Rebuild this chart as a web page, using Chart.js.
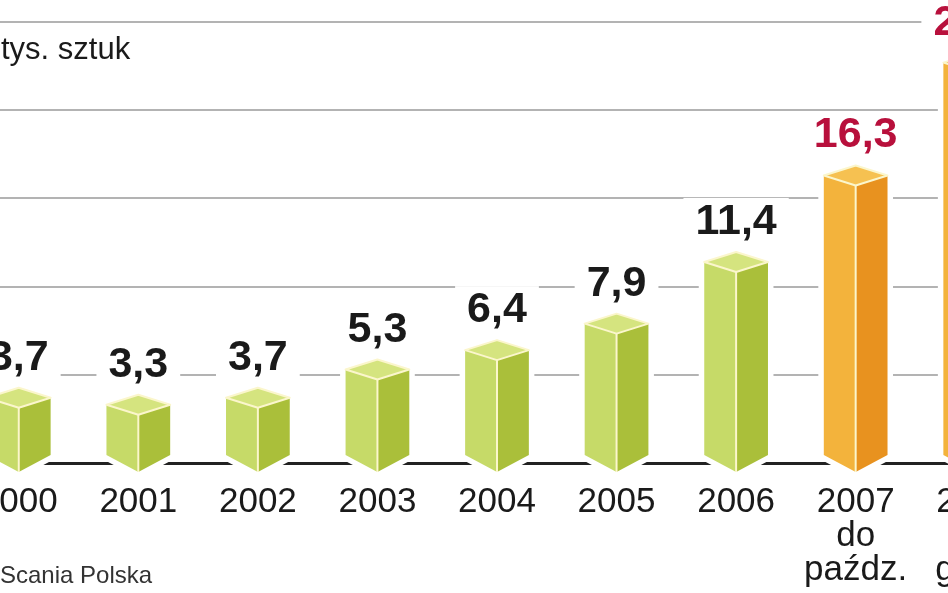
<!DOCTYPE html>
<html>
<head>
<meta charset="utf-8">
<script src="https://cdn.jsdelivr.net/npm/chart.js@4/dist/chart.umd.min.js"></script>
<style>
    html, body { margin: 0; padding: 0; background: #fff; overflow: hidden; width: 948px; height: 593px; }
    /* chart is wider than the window: first and last bars are cut off like in the print */
    #wrap { position: absolute; left: -43px; top: 0; width: 1081px; height: 593px; }
</style>
</head>
<body>
<div id="wrap"><canvas id="chart" width="1081" height="593"></canvas></div>
<script>
/* -------- DATA -------- */
const years = [["2000"], ["2001"], ["2002"], ["2003"], ["2004"], ["2005"], ["2006"], ["2007", "do", "paźdz."], ["2008", "do", "grud."]];
const sales = [3.7, 3.3, 3.7, 5.3, 6.4, 7.9, 11.4, 16.3, 22.7];
const gridValues = [5, 10, 15, 20, 25];
const unitLabel = "tys. sztuk";
const sourceLabel = "Scania Polska";

/* -------- STYLE -------- */
const SHIFT = 43;          // canvas starts 43px left of the window
const DEPTH = 10;          // isometric depth of the box tops
const LABEL_GAP = 18;
const FONT = "'Liberation Sans', Arial, sans-serif";
const green = { left: "#c6da68", right: "#aabf3a", top: "#d5e47f", text: "#1a1a1a" };
const orange = { left: "#f3b33c", right: "#e8921f", top: "#f6c151", text: "#b8103c" };

function paletteFor(i) {
    return i >= 7 ? orange : green;
}

function fmt(v) {
    return v.toFixed(1).replace(".", ",");
}

function poly(ctx, pts) {
    ctx.beginPath();
    ctx.moveTo(pts[0][0], pts[0][1]);
    for (let k = 1; k < pts.length; k++) ctx.lineTo(pts[k][0], pts[k][1]);
    ctx.closePath();
}

// draws every bar as a box seen from its corner, using the bar element geometry
const boxPlugin = {
    id: "boxes",
    afterDatasetsDraw(chart) {
        const ctx = chart.ctx;
        const meta = chart.getDatasetMeta(0);
        const base = chart.scales.y.getPixelForValue(0);
        const valueFont = "bold 43px " + FONT;
        const boxes = meta.data.map((bar) => {
            const p = bar.getProps(["x", "y", "width"], true);
            const L = p.x - p.width / 2, R = p.x + p.width / 2, T = p.y;
            return {
                cx: p.x, L, R, T,
                Bo: base - 8,
                Bf: base + 9,
            };
        });

        ctx.save();
        // white gaps in the grid around boxes and labels
        ctx.fillStyle = "#fff";
        ctx.strokeStyle = "#fff";
        ctx.lineJoin = "round";
        ctx.font = valueFont;
        boxes.forEach((b, i) => {
            poly(ctx, [[b.L, b.T], [b.cx, b.T - DEPTH], [b.R, b.T], [b.R, b.Bo], [b.cx, b.Bf], [b.L, b.Bo]]);
            ctx.lineWidth = 11;
            ctx.stroke();
            ctx.fill();
            const w = ctx.measureText(fmt(sales[i])).width;
            const ty = b.T - DEPTH - LABEL_GAP;
            ctx.fillRect(b.cx - w / 2 - 12, ty - 36, w + 24, 46);
        });

        // faces
        boxes.forEach((b, i) => {
            const pal = paletteFor(i);
            const front = b.T + DEPTH;
            ctx.fillStyle = pal.left;
            poly(ctx, [[b.L, b.T], [b.cx, front], [b.cx, b.Bf], [b.L, b.Bo]]);
            ctx.fill();
            ctx.fillStyle = pal.right;
            poly(ctx, [[b.cx, front], [b.R, b.T], [b.R, b.Bo], [b.cx, b.Bf]]);
            ctx.fill();
            ctx.fillStyle = pal.top;
            poly(ctx, [[b.L, b.T], [b.cx, b.T - DEPTH], [b.R, b.T], [b.cx, front]]);
            ctx.fill();

            // light edges
            ctx.strokeStyle = "#fbf6cc";
            ctx.lineWidth = 2;
            poly(ctx, [[b.L, b.T], [b.cx, b.T - DEPTH], [b.R, b.T], [b.cx, front]]);
            ctx.stroke();
            ctx.beginPath();
            ctx.moveTo(b.cx, front);
            ctx.lineTo(b.cx, b.Bf);
            ctx.stroke();

            // value label
            ctx.fillStyle = pal.text;
            ctx.font = valueFont;
            ctx.textAlign = "center";
            ctx.textBaseline = "alphabetic";
            ctx.fillText(fmt(sales[i]), b.cx, b.T - DEPTH - LABEL_GAP);
        });
        ctx.restore();
    },
    afterDraw(chart) {
        const ctx = chart.ctx;
        ctx.save();
        ctx.textAlign = "left";
        ctx.textBaseline = "alphabetic";
        ctx.fillStyle = "#1a1a1a";
        ctx.font = "31px " + FONT;
        ctx.fillText(unitLabel, SHIFT + 1, 59);
        ctx.fillStyle = "#333";
        ctx.font = "24px " + FONT;
        ctx.fillText(sourceLabel, SHIFT, 583);
        ctx.restore();
    }
};

/* -------- PROGRAM START -------- */
document.addEventListener("DOMContentLoaded", () => {
    const ctx = document.getElementById("chart").getContext("2d");
    new Chart(ctx, {
        type: "bar",
        data: {
            labels: years,
            datasets: [{
                data: sales,
                backgroundColor: "rgba(0,0,0,0)",
                borderWidth: 0,
                barPercentage: 0.533,
                categoryPercentage: 1,
            }],
        },
        options: {
            responsive: false,
            devicePixelRatio: 1,
            animation: false,
            layout: { padding: 0 },
            plugins: {
                legend: { display: false },
                tooltip: { enabled: false },
            },
            scales: {
                x: {
                    grid: { display: false, drawTicks: false },
                    border: { display: true, color: "#222", width: 3 },
                    ticks: {
                        color: "#1a1a1a",
                        font: { family: FONT, size: 35, lineHeight: 0.96 },
                        padding: 23,
                        maxRotation: 0,
                        autoSkip: false,
                    },
                    afterFit(scale) {
                        scale.height = 130;   // keeps the baseline at y = 463
                    },
                },
                y: {
                    min: 0,
                    max: 26.25,
                    ticks: { display: false, stepSize: 5 },
                    border: { display: false },
                    grid: {
                        drawTicks: false,
                        lineWidth: 2,
                        color: (c) => gridValues.includes(c.tick.value) ? "#b3b3b3" : "rgba(0,0,0,0)",
                    },
                },
            },
        },
        plugins: [boxPlugin],
    });
});
</script>
</body>
</html>
